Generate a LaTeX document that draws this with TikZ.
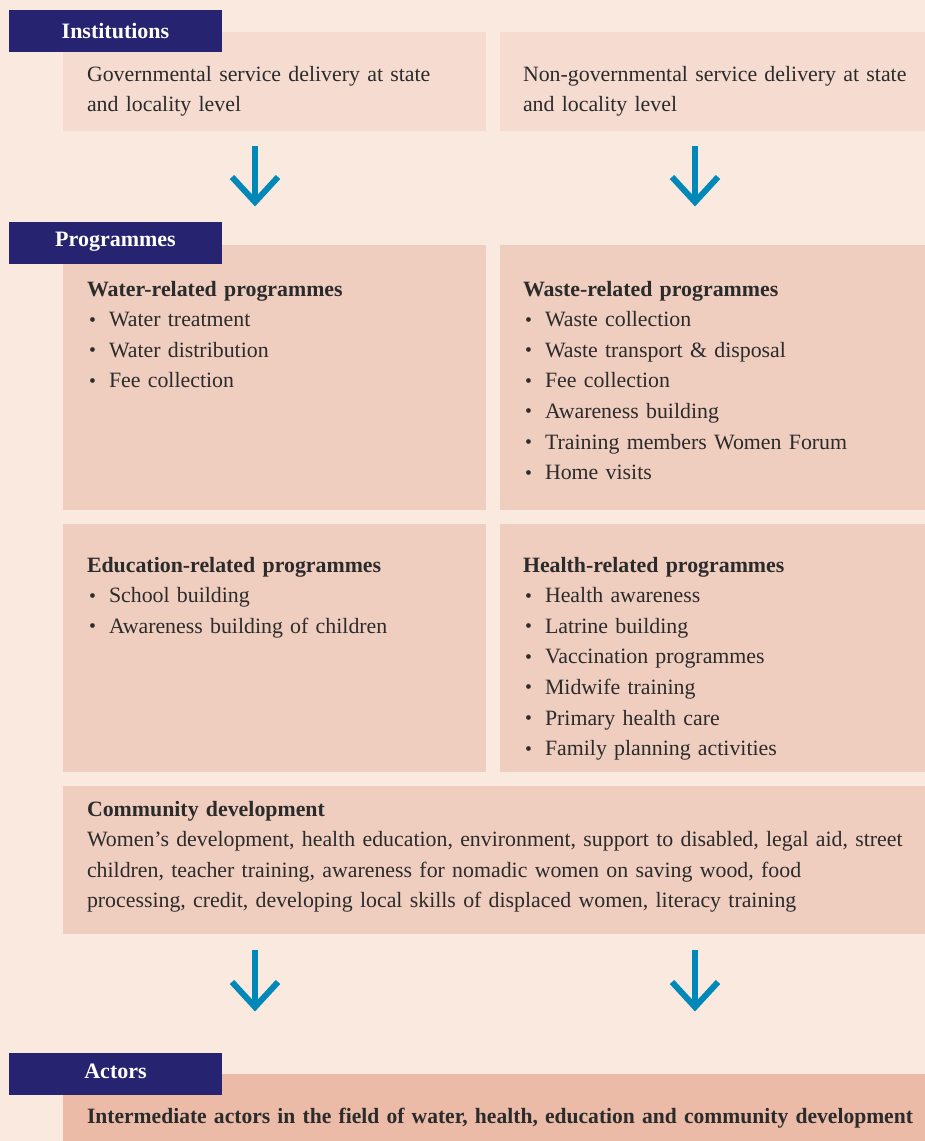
\documentclass[tikz,border=0pt]{standalone}
\usepackage{fontspec}
\usepackage{graphicx}
\setmainfont{Liberation Serif}
\usetikzlibrary{calc}
\definecolor{bg}{HTML}{FAE9DF}
\definecolor{inst}{HTML}{F5DBD0}
\definecolor{prog}{HTML}{EFCDBF}
\definecolor{act}{HTML}{EBBBA8}
\definecolor{navy}{HTML}{262470}
\definecolor{arrowblue}{HTML}{0088B8}
\definecolor{txt}{HTML}{2B2B2B}
\newcommand\itm{\hspace*{2pt}\makebox[20pt][l]{\raisebox{0.5pt}{\scalebox{0.9}{\textbullet}}}}
\newcommand\dnarrow[2]{%
  \draw[flowarrow] (#1) -- (#2);
  \draw[flowarrow] ($(#2)+(-23,-25)$) -- (#2) -- ($(#2)+(23,-25)$);}
\begin{document}
\begin{tikzpicture}[x=1pt,y=-1pt,
  box/.style={anchor=north west, inner sep=0, outer sep=0, draw=none},
  blocktext/.style={anchor=base west, inner sep=0, outer sep=0, text width=420pt, align=left,
     text=txt, font=\fontsize{21.85}{30.6}\selectfont},
  navylabel/.style={fill=navy, text=white, inner sep=0, minimum width=213pt, minimum height=42pt,
     text height=18pt, text depth=4pt,
     font=\fontsize{22}{26}\selectfont\bfseries},
  flowarrow/.style={draw=arrowblue, line width=6pt, line join=miter, line cap=butt}]
\fill[bg] (0,0) rectangle (925,1141);
\useasboundingbox (0,0) rectangle (925,1141);
% boxes
\node[box, fill=inst, minimum width=423pt, minimum height=99pt] (gov) at (63,32) {};
\node[box, fill=inst, minimum width=425pt, minimum height=99pt] (ngo) at (500,32) {};
\node[box, fill=prog, minimum width=423pt, minimum height=265pt] (water) at (63,245) {};
\node[box, fill=prog, minimum width=425pt, minimum height=265pt] (waste) at (500,245) {};
\node[box, fill=prog, minimum width=423pt, minimum height=248pt] (edu) at (63,524) {};
\node[box, fill=prog, minimum width=425pt, minimum height=248pt] (health) at (500,524) {};
\node[box, fill=prog, minimum width=862pt, minimum height=148pt] (comm) at (63,786) {};
\node[box, fill=act, minimum width=862pt, minimum height=67pt] (actors) at (63,1074) {};
% labels
\node[navylabel] (linst) at (115.5,31) {Institutions};
\node[navylabel, text height=14pt, text depth=8pt] (lprog) at (115.5,243) {Programmes};
\node[navylabel, text height=15pt, text depth=7pt] (lact) at (115.5,1074) {Actors};
% texts
\node[blocktext] (tgov) at (87,81) {Governmental service delivery at state\\and locality level};
\node[blocktext] (tngo) at (523,81) {Non-governmental service delivery at state\\and locality level};
\node[blocktext] (twater) at (87,296) {\textbf{Water-related programmes}\\
  \itm Water treatment\\ \itm Water distribution\\ \itm Fee collection};
\node[blocktext] (twaste) at (523,296) {\textbf{Waste-related programmes}\\
  \itm Waste collection\\ \itm Waste transport \& disposal\\ \itm Fee collection\\
  \itm Awareness building\\ \itm Training members Women Forum\\ \itm Home visits};
\node[blocktext] (tedu) at (87,572) {\textbf{Education-related programmes}\\
  \itm School building\\ \itm Awareness building of children};
\node[blocktext] (thealth) at (523,572) {\textbf{Health-related programmes}\\
  \itm Health awareness\\ \itm Latrine building\\ \itm Vaccination programmes\\
  \itm Midwife training\\ \itm Primary health care\\ \itm Family planning activities};
\node[blocktext, text width=840pt] (tcomm) at (87,816) {\textbf{Community development}\\
  Women’s development, health education, environment, support to disabled, legal aid, street\\
  children, teacher training, awareness for nomadic women on saving wood, food\\
  processing, credit, developing local skills of displaced women, literacy training};
\node[blocktext, text width=840pt] (tact) at (87,1123) {\resizebox{826pt}{\height}{\textbf{Intermediate actors in the field of water, health, education and community development}}};
% arrows
\coordinate (a1s) at (255,146); \coordinate (a1e) at (255,202);
\coordinate (a2s) at (695,146); \coordinate (a2e) at (695,202);
\coordinate (a3s) at (255,950); \coordinate (a3e) at (255,1007);
\coordinate (a4s) at (695,950); \coordinate (a4e) at (695,1007);
\dnarrow{a1s}{a1e}
\dnarrow{a2s}{a2e}
\dnarrow{a3s}{a3e}
\dnarrow{a4s}{a4e}
\end{tikzpicture}
\end{document}
